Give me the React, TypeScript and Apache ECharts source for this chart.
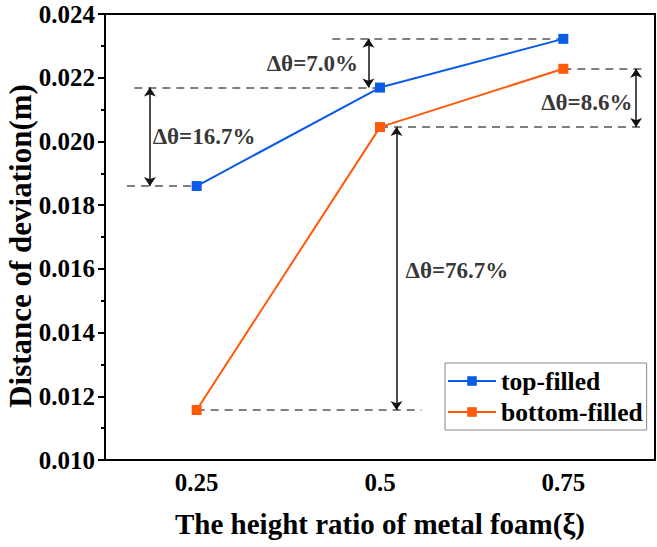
import React, { useEffect, useRef } from "react";
import * as echarts from "echarts";

const categories = ["0.25", "0.5", "0.75"];
const topFilled = [0.0186, 0.02169, 0.02322];
const bottomFilled = [0.01157, 0.02045, 0.02228];

// dashed guide lines: [xStart, xEnd, y] (x in category-index units)
const guideLines: [number, number, number][] = [
  [-0.34, 1, 0.02169],
  [-0.38, 0, 0.0186],
  [0.74, 2, 0.02322],
  [2, 2.456, 0.02228],
  [1, 2.44, 0.02045],
  [0, 1.226, 0.01157],
];
// double arrows: [x, yLow, yHigh]
const arrows: [number, number, number][] = [
  [-0.255, 0.0186, 0.02169],
  [0.937, 0.02169, 0.02322],
  [2.397, 0.02045, 0.02228],
  [1.09, 0.01157, 0.02045],
];
// labels: [x, y, text]
const labels: [number, number, string][] = [
  [-0.24, 0.02014, "Δθ=16.7%"],
  [0.382, 0.02246, "Δθ=7.0%"],
  [1.879, 0.02121, "Δθ=8.6%"],
  [1.139, 0.01596, "Δθ=76.7%"],
];

const FONT = "Liberation Serif";
const BLUE = "#0A5CE6";
const ORANGE = "#FF5A0A";

export default function App() {
  const ref = useRef<HTMLDivElement>(null);
  useEffect(() => {
    if (!ref.current) return;
    const chart = echarts.init(ref.current, undefined, { renderer: "svg" });
    const markData: any[] = [];
    guideLines.forEach(([x1, x2, y]) => {
      markData.push([
        {
          coord: [x1, y],
          symbol: "none",
          lineStyle: { type: [8, 6], color: "#555", width: 1.5 },
        },
        { coord: [x2, y], symbol: "none" },
      ]);
    });
    arrows.forEach(([x, y1, y2]) => {
      markData.push([
        {
          coord: [x, y1],
          symbol: "arrow",
          lineStyle: { type: "solid", color: "#111", width: 1.5 },
        },
        { coord: [x, y2], symbol: "arrow" },
      ]);
    });
    chart.setOption({
      animation: false,
      backgroundColor: "#fff",
      textStyle: { fontFamily: FONT },
      grid: {
        left: 105,
        right: 2,
        top: 14,
        bottom: 87,
        containLabel: false,
        outerBoundsMode: "none",
        show: true,
        borderColor: "#000",
        borderWidth: 2,
      },
      legend: {
        data: ["top-filled", "bottom-filled"],
        orient: "vertical",
        left: 445,
        top: 363,
        borderColor: "#888",
        borderWidth: 1,
        padding: [5, 4, 5, 2],
        itemWidth: 48,
        itemHeight: 12,
        itemGap: 5,
        textStyle: { fontFamily: FONT, fontWeight: "bold", fontSize: 25.5, color: "#000" },
      },
      xAxis: [
        {
          type: "category",
          data: categories,
          boundaryGap: true,
          name: "The height ratio of metal foam(ξ)",
          nameLocation: "middle",
          nameGap: 49,
          nameTextStyle: { fontFamily: FONT, fontWeight: "bold", fontSize: 29, color: "#000" },
          axisLine: { onZero: false, lineStyle: { color: "#000", width: 2 } },
          axisTick: { alignWithLabel: true, inside: true, length: 8, lineStyle: { width: 2, color: "#000" } },
          axisLabel: { fontFamily: FONT, fontWeight: "bold", fontSize: 25, color: "#000", margin: 10 },
          splitLine: { show: false },
        },
        { type: "value", min: -0.5, max: 2.5, show: false },
      ],
      yAxis: {
        type: "value",
        min: 0.01,
        max: 0.024,
        interval: 0.002,
        name: "Distance of deviation(m)",
        nameLocation: "middle",
        nameGap: 70,
        nameMoveOverlap: false,
        nameTextStyle: {
          fontFamily: FONT,
          fontWeight: "bold",
          fontSize: 31,
          lineHeight: 30,
          padding: [0, 18, 0, 0],
          color: "#000",
        },
        axisLine: { show: true, onZero: false, lineStyle: { color: "#000", width: 2 } },
        axisTick: { show: true, inside: false, length: 7, lineStyle: { width: 2, color: "#000" } },
        minorTick: { show: true, splitNumber: 2, length: 4, lineStyle: { width: 2, color: "#000" } },
        axisLabel: {
          fontFamily: FONT,
          fontWeight: "bold",
          fontSize: 25,
          color: "#000",
          margin: 10,
          formatter: (v: number) => v.toFixed(3),
        },
        splitLine: { show: false },
      },
      series: [
        {
          type: "line",
          name: "annotations",
          xAxisIndex: 1,
          data: [],
          z: 1,
          silent: true,
          markLine: {
            silent: true,
            symbolSize: 9,
            label: { show: false },
            data: markData,
          },
        },
        {
          type: "scatter",
          xAxisIndex: 1,
          z: 3,
          symbolSize: 0,
          silent: true,
          data: labels.map(([x, y, t]) => ({ value: [x, y], name: t })),
          label: {
            show: true,
            position: "right",
            distance: 0,
            formatter: (p: any) => p.name,
            fontFamily: FONT,
            fontWeight: "bold",
            fontSize: 23,
            color: "#000",
          },
        },
        {
          type: "line",
          name: "top-filled",
          data: topFilled,
          z: 5,
          color: BLUE,
          symbol: "rect",
          symbolSize: 10,
          lineStyle: { width: 2, color: BLUE },
          itemStyle: { color: BLUE },
        },
        {
          type: "line",
          name: "bottom-filled",
          data: bottomFilled,
          z: 5,
          color: ORANGE,
          symbol: "rect",
          symbolSize: 10,
          lineStyle: { width: 2, color: ORANGE },
          itemStyle: { color: ORANGE },
        },
      ],
    });
    return () => chart.dispose();
  }, []);
  return (
    <div
      ref={ref}
      style={{ position: "fixed", left: 0, top: 0, width: 657, height: 547, background: "#fff" }}
    />
  );
}
